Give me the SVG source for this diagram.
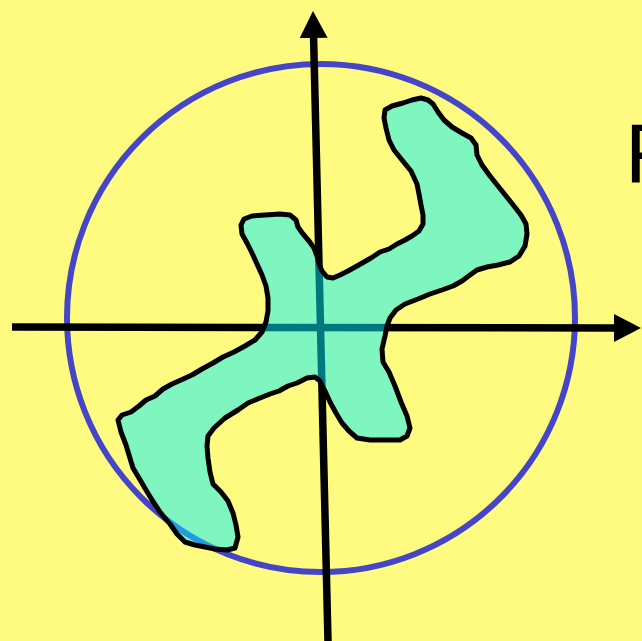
<svg xmlns="http://www.w3.org/2000/svg" width="642" height="641" viewBox="0 0 642 641">
  <style>
    .axis { stroke: #000; stroke-width: 7.5; fill: none; marker-end: url(#arr); }
    .ring { fill: none; stroke: #4545C8; stroke-width: 6; }
    .blob { fill: #00F0FF; fill-opacity: 0.5; stroke: #000; stroke-width: 5; stroke-linejoin: round; }
    .lbl { font-family: "Liberation Sans", Arial, sans-serif; font-size: 84px; fill: #000; }
  </style>
  <defs>
    <marker id="arr" markerUnits="userSpaceOnUse" markerWidth="30" markerHeight="30" refX="0" refY="14" orient="auto" viewBox="0 0 30 28">
      <path d="M0,0 L27,14 L0,28 z" fill="#000"/>
    </marker>
  </defs>
  <rect width="642" height="641" fill="#FFFA80"/>
  <g id="circle">
    <circle class="ring" cx="321" cy="318" r="254"/>
  </g>
  <g id="connectors">
    <line class="axis" x1="12" y1="327" x2="614" y2="328"/>
    <line class="axis" x1="328" y1="641" x2="313.6" y2="38"/>
  </g>
  <g id="shape">
    <path class="blob" d="M241,225 L244,219 L252,216 L265,215 L280,214 L290,215 L296,220 L298,227 L303,234 L309,241 L314,248 L317,256 L319,264 L322,271 L327,277 L333,278 L340,275 L348,271 L357,266 L364,262 L371,258 L380,252 L389,249 L397,244 L405,240 L412,236 L419,231 L423,224 L423,215 L421,205 L419,194 L417,184 L411,171 L402,160 L394,150 L389,140 L386,128 L384,118 L385,110 L392,106 L403,103 L412,100 L421,98 L428,100 L433,104 L438,112 L444,120 L452,127 L462,133 L471,138 L476,145 L477,155 L482,165 L490,176 L498,186 L506,196 L514,206 L521,215 L526,224 L527,234 L525,246 L519,256 L510,262 L498,265 L487,267 L477,270 L470,275 L462,281 L453,286 L442,290 L430,294 L418,299 L405,304 L396,310 L390,318 L387,326 L385,336 L382,349 L383,362 L389,372 L395,386 L401,402 L407,416 L410,428 L407,436 L400,440 L387,440 L370,440 L357,438 L349,431 L342,423 L336,413 L330,402 L325,391 L320,381 L315,377 L307,378 L297,383 L288,386 L279,391 L270,394 L260,398 L248,403 L238,410 L225,418 L214,428 L208,436 L207,446 L208,458 L210,472 L213,484 L221,492 L228,501 L233,513 L236,525 L238,537 L235,548 L227,550 L215,549 L205,547 L195,545 L185,542 L177,534 L170,524 L160,512 L152,500 L146,490 L139,478 L133,468 L129,455 L126,445 L121,432 L118,420 L122,415 L131,412 L139,406 L146,400 L155,396 L163,389 L172,384 L181,380 L192,375 L202,369 L213,363 L223,357 L234,352 L245,346 L255,340 L262,332 L266,322 L268,311 L268,298 L266,286 L262,275 L257,264 L252,253 L247,243 L242,234 Z"/>
  </g>
  <g id="label">
    <text class="lbl" x="625" y="182">F</text>
  </g>
</svg>
